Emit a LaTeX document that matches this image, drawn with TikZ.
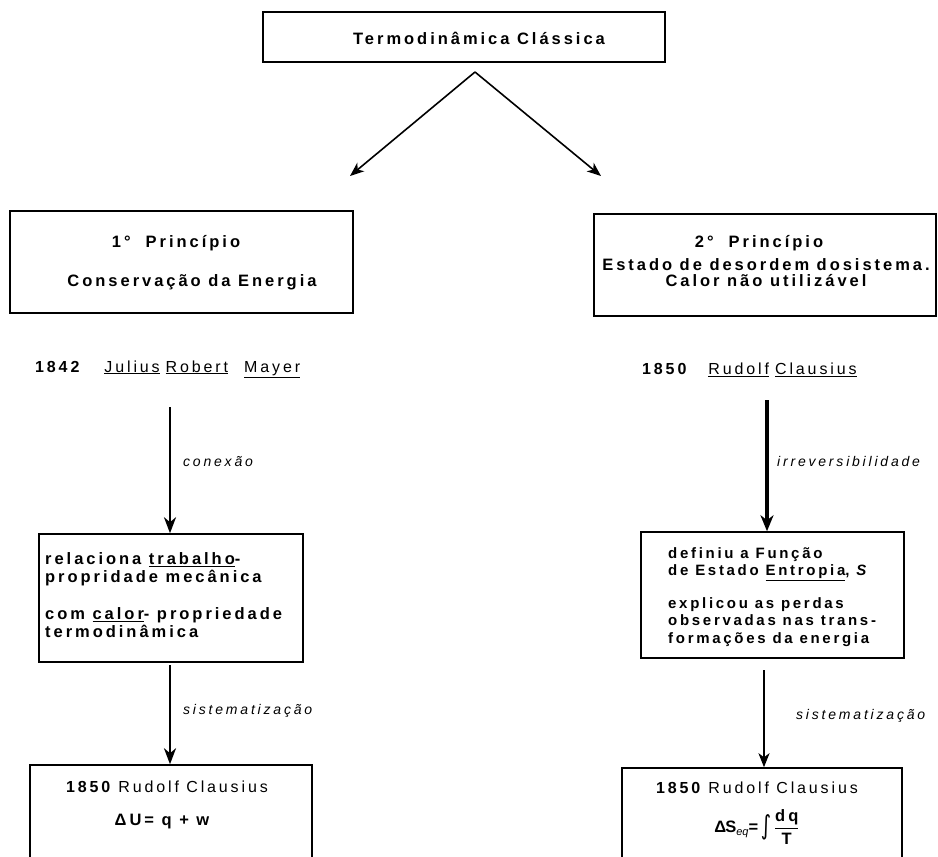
\documentclass[tikz,border=0pt]{standalone}
\usepackage{fontspec}
\usepackage{graphicx}
\setmainfont{Liberation Sans}
\newfontfamily\trk[LetterSpace=18]{Liberation Sans}
\newfontfamily\trki[LetterSpace=20]{Liberation Sans}
\newfontfamily\symf{DejaVu Sans}
\usetikzlibrary{arrows.meta}
\begin{document}
\begin{tikzpicture}[x=1pt,y=-1pt,
  box/.style={draw, line width=1.5pt, rectangle, inner sep=0pt},
  lbl/.style={inner sep=0pt, font=\trk\fontsize{16.5}{16}\selectfont\bfseries},
  para/.style={inner sep=0pt, align=left, anchor=north west},
  person/.style={inner sep=0pt, font=\trk\fontsize{16}{16}\selectfont},
  tag/.style={inner sep=0pt, anchor=west, font=\trki\fontsize{14}{16}\selectfont\itshape},
  split/.style={line width=1.6pt, -{Stealth[length=14pt,width=11pt,inset=4pt]}},
  heavy/.style={line width=2.8pt, -{Stealth[length=16pt,width=12pt,inset=5pt]}},
  heavier/.style={line width=3.6pt, -{Stealth[length=16pt,width=13pt,inset=5pt]}},
  light/.style={line width=1.7pt, -{Stealth[length=14pt,width=11pt,inset=4pt]}}
]
\useasboundingbox (0,0) rectangle (938,857);

% --- top ---
\node[box, minimum width=402pt, minimum height=50pt] (top) at (464,37) {};
\node[lbl] (toptxt) at (479,38) {Termodinâmica Clássica};
\coordinate (apex) at (475,72);
\coordinate (lend) at (350,176);
\coordinate (rend) at (601,176);
\draw[split] (apex) -- (lend);
\draw[split] (apex) -- (rend);

% --- first principle column ---
\node[box, minimum width=343pt, minimum height=102pt] (p1) at (181.5,262) {};
\node[lbl] (p1a) at (176,243) {1°~~Princípio};
\node[lbl] (p1b) at (192,282) {Conservação da Energia};

\node[person, anchor=west] (mayer) at (35,369)
  {\bfseries 1842\hspace{25pt}\mdseries\underline{Julius}\hspace{6pt}\underline{Robert}\hspace{16pt}\underline{Mayer}};

\coordinate (l1s) at (170,407);
\node[box, minimum width=264pt, minimum height=128pt] (l2) at (171,598) {};
\draw[heavy] (l1s) -- (l1s |- l2.north);
\node[tag] (conex) at (183,462) {conexão};

\node[para, font=\trk\fontsize{16.5}{18.5}\selectfont\bfseries] (l2txt) at (45,552)
  {relaciona \underline{trabalho}-\\propridade mecânica\\[18pt]com \underline{calor}- propriedade\\termodinâmica};

\node[box, minimum width=282pt, minimum height=120pt] (l3) at (171,825) {};
\coordinate (l2s) at (170,665);
\draw[heavy] (l2s) -- (l2s |- l3.north);
\node[tag] (sist1) at (183,711) {sistematização};

\node[person] (l3a) at (167,787) {\bfseries 1850\hspace{8pt}\mdseries Rudolf Clausius};
\node[lbl] (l3b) at (162,822) {ΔU=~q~+~w};

% --- second principle column ---
\node[box, minimum width=342pt, minimum height=102pt] (p2) at (765,265) {};
\node[lbl] (p2a) at (759,243) {2°~~Princípio};
\node[lbl, align=center, font=\trk\fontsize{16.5}{16}\selectfont\bfseries] (p2b) at (766,273)
  {Estado de desordem dosistema.\\Calor não utilizável};

\node[person, anchor=west] (claus) at (642,370)
  {\bfseries 1850\hspace{22pt}\mdseries\underline{Rudolf}\hspace{6pt}\underline{Clausius}};

\coordinate (r1s) at (767,400);
\node[box, minimum width=263pt, minimum height=126pt] (r2) at (772.5,595) {};
\draw[heavier] (r1s) -- (r1s |- r2.north);
\node[tag] (irrev) at (777,461) {irreversibilidade};

\node[para, font=\trk\fontsize{15}{17.5}\selectfont\bfseries] (r2txt) at (668,547)
  {definiu a Função\\de Estado \underline{Entropia}, \textit{S}\\[15pt]explicou as perdas\\observadas nas trans-\\formações da energia};

\node[box, minimum width=280pt, minimum height=120pt] (r3) at (762,828) {};
\coordinate (r2s) at (764,670);
\draw[light] (r2s) -- (r2s |- r3.north);
\node[tag] (sist2) at (796,716) {sistematização};

\node[person] (r3a) at (757,788) {\bfseries 1850\hspace{8pt}\mdseries Rudolf Clausius};
\node[lbl] (r3b) at (757,827)
  {Δ\kern-1pt S\raisebox{-3pt}{\normalfont\itshape\fontsize{11}{11}\selectfont eq}=\,\raisebox{-2pt}{\scalebox{1.2}[1.6]{\symf\mdseries ∫}}\,$\displaystyle\frac{\mbox{\trk\bfseries dq}}{\mbox{\trk\bfseries T}}$};
\end{tikzpicture}
\end{document}
